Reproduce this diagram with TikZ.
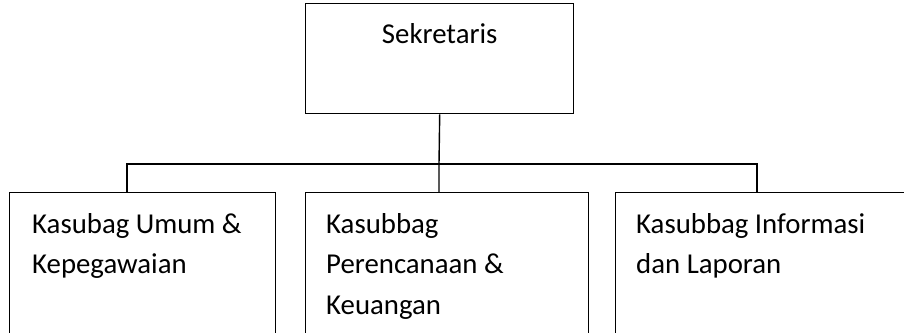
\documentclass[tikz,border=0pt]{standalone}
\usepackage{fontspec}
\setmainfont{Carlito}
\begin{document}
\begin{tikzpicture}[x=1pt,y=1pt]
        \tikzstyle{every node}+=[inner sep=0pt, font=\fontsize{28.8}{40.5}\selectfont]
        \tikzstyle{unitbox}=[draw=black, line width=1.4pt, rectangle, anchor=north west]
        \tikzstyle{unittext}=[anchor=north west, align=left]
        \useasboundingbox (0,0) rectangle (904,-332);
        \clip (0,0) rectangle (904,-332);
        \node [unitbox, minimum width=268pt, minimum height=110pt] (sek) at (305,-3) {};
        \node [anchor=base] (sektxt) at ([yshift=-40pt]sek.north) {Sekretaris};
        \node [unitbox, minimum width=266pt, minimum height=200pt] (umum) at (9,-192) {};
        \node [unitbox, minimum width=283pt, minimum height=200pt] (renc) at (305,-192) {};
        \node [unitbox, minimum width=320pt, minimum height=200pt] (info) at (615,-192) {};
        \node [unittext] (umumtxt) at (32,-213) {Kasubag Umum \&\\Kepegawaian};
        \node [unittext] (renctxt) at (326,-213) {Kasubbag\\Perencanaan \&\\Keuangan};
        \node [unittext] (infotxt) at (636,-213) {Kasubbag Informasi\\dan Laporan};
        \coordinate (bus) at (439,-164);
        \coordinate (t1) at (127,-192);
        \coordinate (t2) at (439,-192);
        \coordinate (t3) at (757,-192);
        \draw [line width=1.4pt] (sek.south) -- (bus) -- (t2);
        \draw [line width=1.4pt] (bus) -| (t1);
        \draw [line width=1.4pt] (bus) -| (t3);
\end{tikzpicture}
\end{document}
